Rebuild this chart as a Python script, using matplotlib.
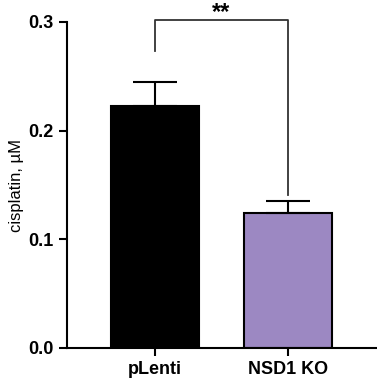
import matplotlib.pyplot as plt

plt.rcParams['font.family'] = ['Liberation Sans', 'DejaVu Sans']

groups = ['pLenti', 'NSD1 KO']
means = [0.2226, 0.1240]
errs = [0.0221, 0.0110]
colors = ['#000000', '#9c88c2']

fig = plt.figure(figsize=(3.77, 3.87), dpi=100)
ax = fig.add_axes([67 / 377, 39 / 387, 310 / 377, 326 / 387])

x = [0, 1]
ax.bar(x, means, width=0.66, color=colors, edgecolor='black', linewidth=1.5, zorder=2)
ax.errorbar(x, means, yerr=[[0, 0], errs], fmt='none', ecolor='black',
            elinewidth=1.5, capsize=16, capthick=1.5, zorder=3)

# significance bracket
ax.plot([0, 0, 1, 1], [0.273, 0.3015, 0.3015, 0.141], color='#333333', lw=1.3,
        clip_on=False)
ax.text(0.5, 0.3195, '**', ha='center', va='top', fontsize=17, fontweight='bold',
        clip_on=False)

ax.set_xlim(-0.66, 1.67)
ax.set_ylim(0, 0.3)
ax.set_yticks([0.0, 0.1, 0.2, 0.3])
ax.set_yticklabels(['0.0', '0.1', '0.2', '0.3'], fontsize=13, fontweight='bold')
ax.set_xticks(x)
ax.set_xticklabels(groups, fontsize=13, fontweight='bold')
ax.set_ylabel('cisplatin, µM', fontsize=12, labelpad=3)
for s in ['top', 'right']:
    ax.spines[s].set_visible(False)
for s in ['left', 'bottom']:
    ax.spines[s].set_linewidth(1.5)
ax.tick_params(width=1.5, length=6)

plt.savefig('out.png', dpi=100)
